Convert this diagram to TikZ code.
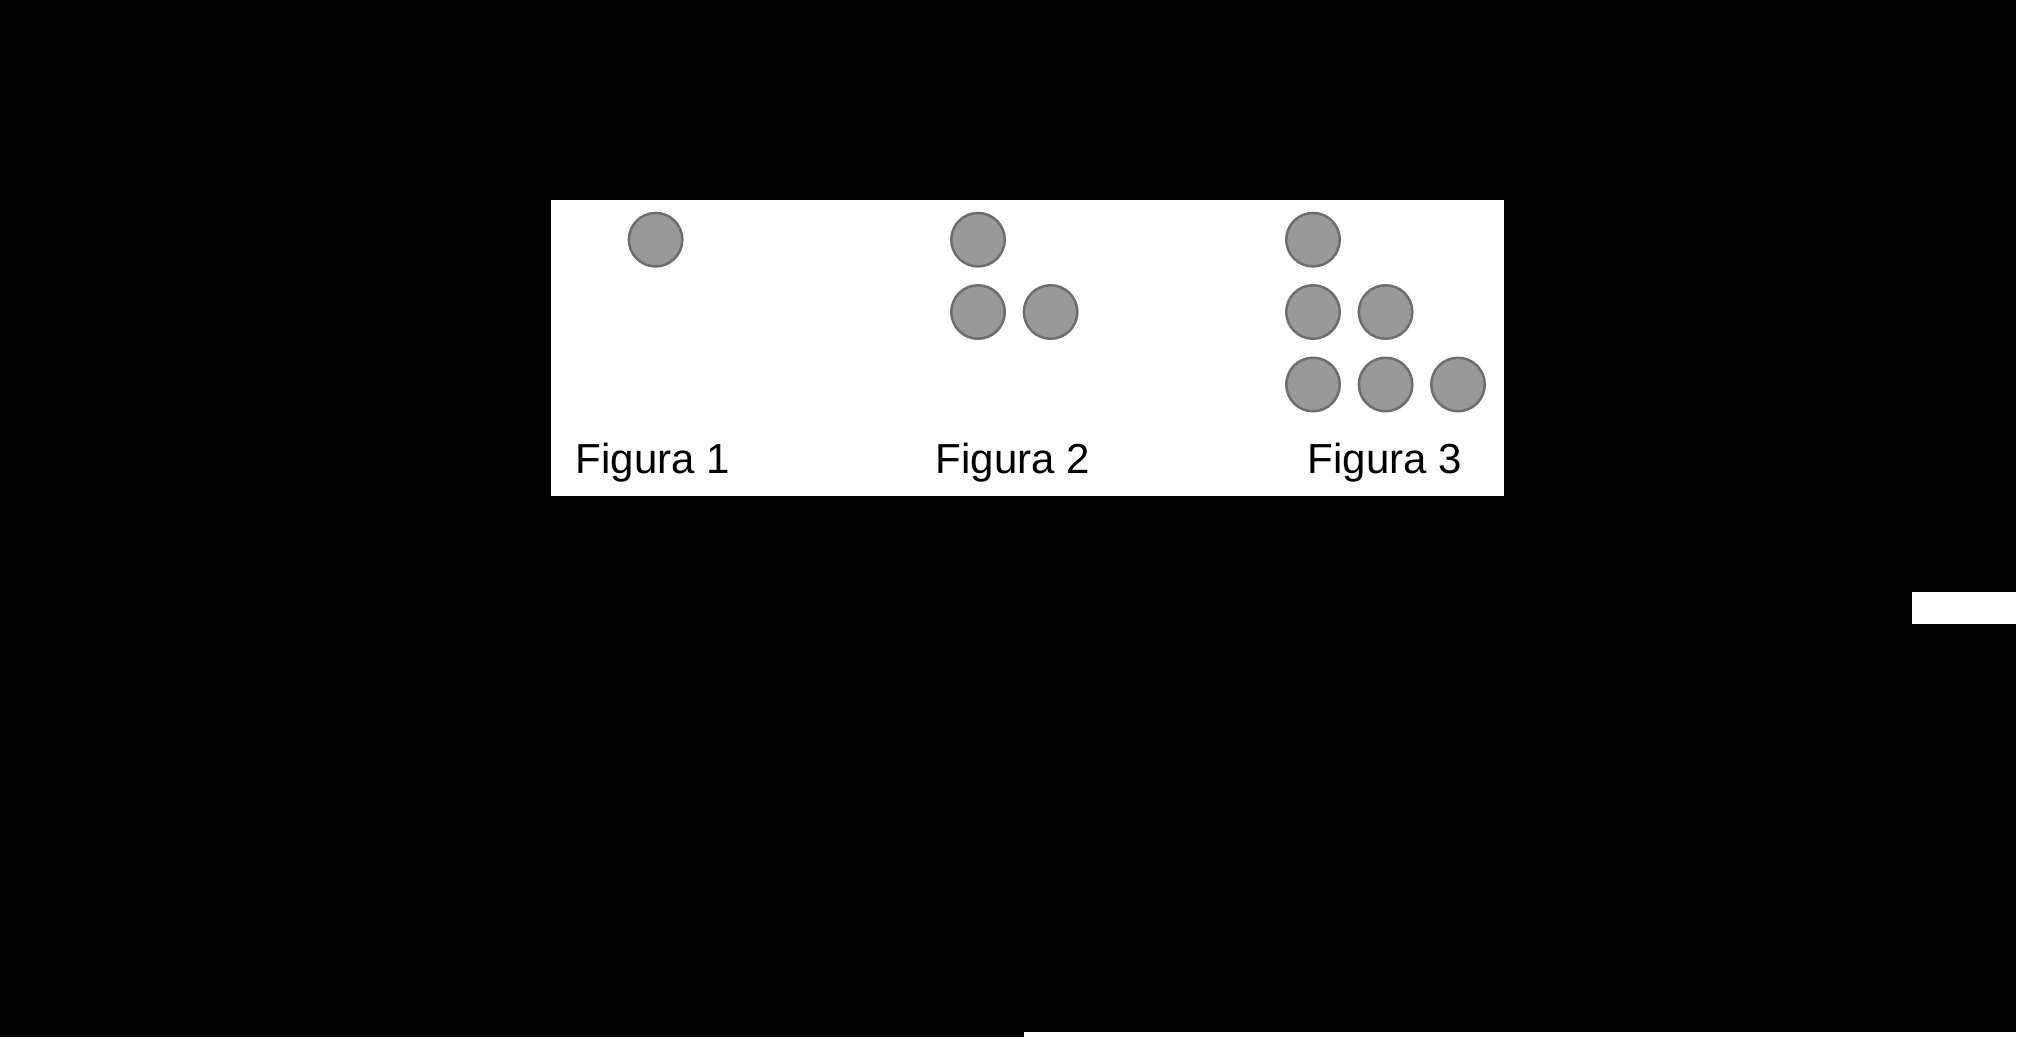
\documentclass[tikz,border=0pt]{standalone}
\usepackage{fontspec}
\setmainfont{Liberation Sans}
\definecolor{dotfill}{RGB}{153,153,153}
\definecolor{dotline}{RGB}{110,110,110}
\tikzset{
  dot/.style={circle, fill=dotfill, draw=dotline, line width=2.5pt, minimum size=53.5pt, inner sep=0pt},
  caption/.style={anchor=base, inner sep=0pt, text=black, font=\fontsize{42}{50}\selectfont}
}
\begin{document}
\begin{tikzpicture}[x=1pt,y=-1pt]
\useasboundingbox (0,0) rectangle (2020,1037);
% background
\fill[black] (0,0) rectangle (2020,1037);
\fill[white] (2016,0) rectangle (2020,1037);
\fill[white] (1912,592) rectangle (2020,624);
\fill[white] (1024,1032) rectangle (2020,1037);
% panel
\fill[white] (551,200) rectangle (1504,496);
% Figura 1
\node[dot] (a1) at (655.6,239.7) {};
% Figura 2
\node[dot] (b1) at (978,239.7) {};
\node[dot] (b2) at (978,312) {};
\node[dot] (b3) at (1050.6,312) {};
% Figura 3
\node[dot] (c1) at (1313,239.7) {};
\node[dot] (c2) at (1313,312) {};
\node[dot] (c3) at (1385.6,312) {};
\node[dot] (c4) at (1313,384.5) {};
\node[dot] (c5) at (1385.6,384.5) {};
\node[dot] (c6) at (1458,384.5) {};
% captions
\node[caption] (t1) at (653,473) {Figura 1};
\node[caption] (t2) at (1013,473) {Figura 2};
\node[caption] (t3) at (1385,473) {Figura 3};
\end{tikzpicture}
\end{document}
